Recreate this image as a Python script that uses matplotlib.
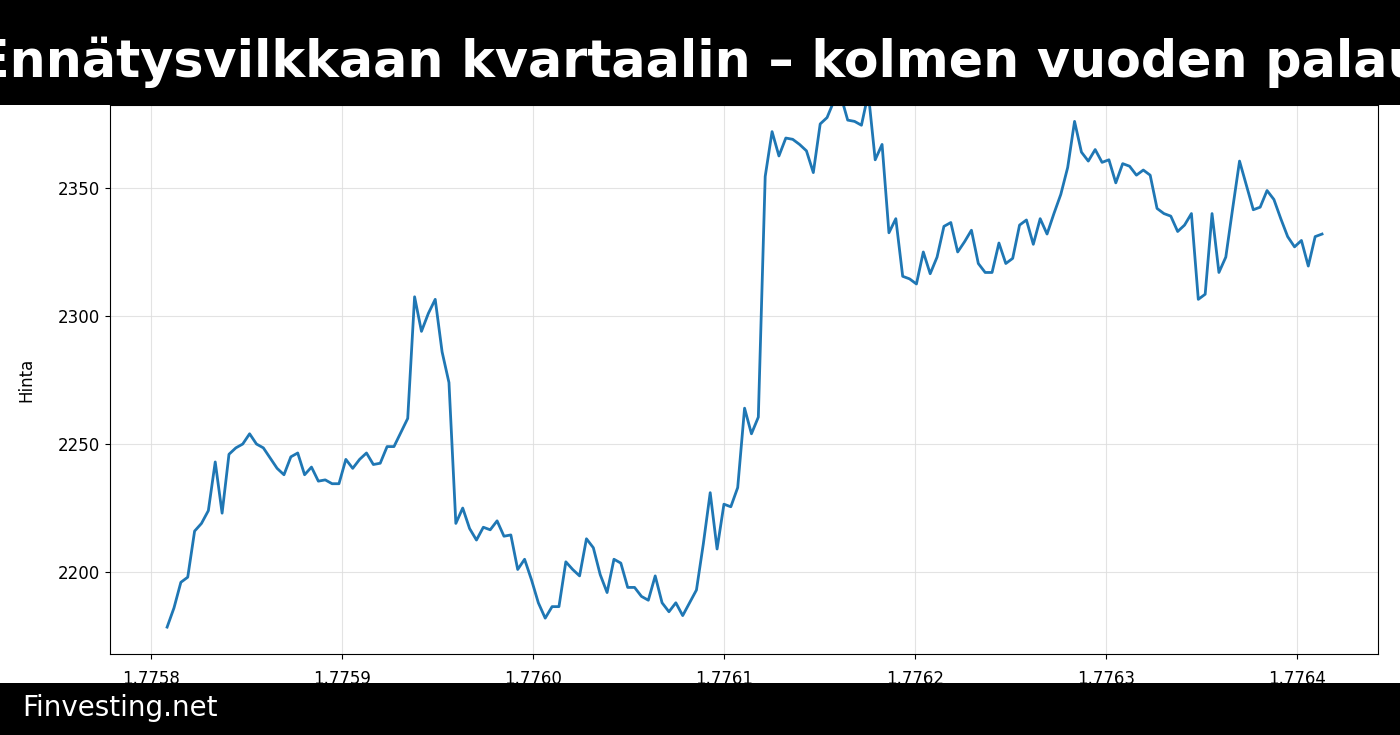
import numpy as np
import matplotlib.pyplot as plt
from matplotlib.ticker import FormatStrFormatter

title = "Ennätysvilkkaan kvartaalin – kolmen vuoden palautus"
brand = "Finvesting.net"

prices = [
    2178.5, 2186, 2196, 2198, 2216, 2219, 2224, 2243, 2223, 2246, 2248.5, 2250, 2254, 2250, 2248.5,
    2244.5, 2240.5, 2238, 2245, 2246.5, 2238, 2241, 2235.5, 2236, 2234.5, 2234.5, 2244, 2240.5, 2244,
    2246.5, 2242, 2242.5, 2249, 2249, 2254.5, 2260, 2307.5, 2294, 2301, 2306.5, 2286, 2274, 2219, 2225,
    2217, 2212.5, 2217.5,
    2216.5, 2220, 2214, 2214.5, 2201, 2205, 2197, 2188, 2182, 2186.5, 2186.5, 2204, 2201, 2198.5, 2213,
    2209.5, 2199, 2192, 2205, 2203.5, 2194, 2194, 2190.5, 2189, 2198.5, 2188, 2184.5, 2188, 2183, 2188,
    2193, 2211, 2231, 2209, 2226.5, 2225.5, 2233, 2264, 2254, 2260.5,
    2354.5, 2372, 2362.5, 2369.5, 2369, 2367, 2364.5, 2356, 2375, 2377.5, 2384, 2386, 2376.5, 2376,
    2374.5, 2387, 2361, 2367, 2332.5, 2338, 2315.5, 2314.5, 2312.5, 2325, 2316.5, 2323, 2335, 2336.5,
    2325, 2329, 2333.5, 2320.5, 2317, 2317, 2328.5, 2320.5, 2322.5, 2335.5, 2337.5, 2328,
    2338, 2332, 2340, 2347.5, 2358, 2376, 2364, 2360.5, 2365, 2360, 2361, 2352, 2359.5, 2358.5, 2355,
    2357, 2355, 2342, 2340, 2339, 2333, 2335.5, 2340, 2306.5, 2308.5, 2340, 2317, 2323, 2342, 2360.5,
    2351, 2341.5, 2342.5, 2349, 2345.5, 2338, 2331, 2327, 2329.5, 2319.5, 2331, 2332,
]
t_start, t_end = 1.7758084, 1.7764131
times = np.linspace(t_start, t_end, len(prices))

fig = plt.figure(figsize=(14, 7.35), dpi=100)
ax = fig.add_axes([110 / 1400, 1 - 654 / 735, (1378 - 110) / 1400, (654 - 105) / 735])
ax.plot(times, prices, color="#1f77b4", linewidth=2)
ax.set_xlim(1.7757785, 1.7764424)
ax.set_ylim(2168, 2382.4)
ax.set_xticks([1.7758, 1.7759, 1.7760, 1.7761, 1.7762, 1.7763, 1.7764])
ax.xaxis.set_major_formatter(FormatStrFormatter("%.4f"))
ax.set_yticks([2200, 2250, 2300, 2350])
ax.tick_params(labelsize=12)
ax.tick_params(axis="x", pad=8)
ax.set_ylabel("Hinta", fontsize=12, labelpad=16)
ax.grid(True, color="#dddddd", linewidth=0.8, alpha=0.8)

# top banner
fig.patches.append(plt.Rectangle((0, 1 - 105 / 735), 1, 105 / 735, transform=fig.transFigure,
                                 facecolor="black", zorder=5))
fig.text(744 / 1400, 1 - 62 / 735, title, color="white", fontsize=36.5, fontweight="bold",
         ha="center", va="center", zorder=6)
# footer
fig.patches.append(plt.Rectangle((0, 0), 1, 52 / 735, transform=fig.transFigure,
                                 facecolor="black", zorder=5))
fig.text(22 / 1400, 27 / 735, brand, color="white", fontsize=20, ha="left", va="center", zorder=6)

fig.savefig("out.png", dpi=100)
